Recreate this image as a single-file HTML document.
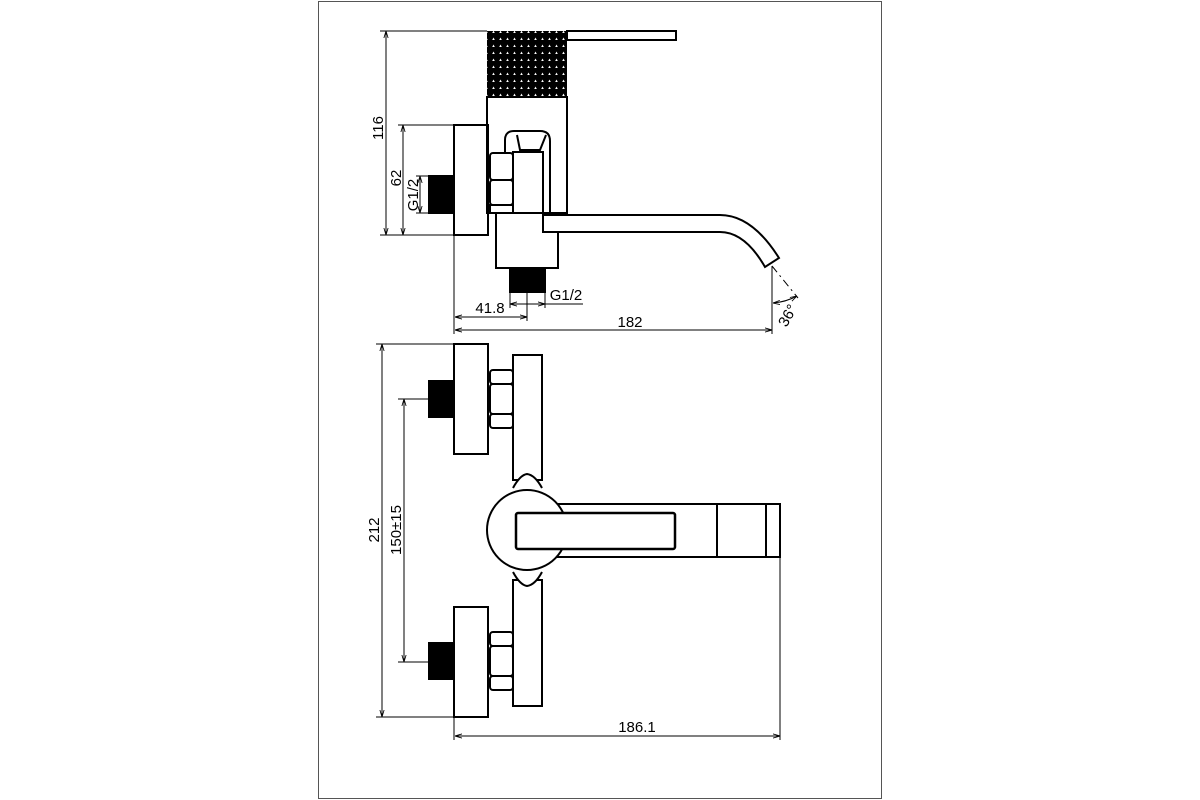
<!DOCTYPE html>
<html><head><meta charset="utf-8"><style>
html,body{margin:0;padding:0;background:#fff}
svg{display:block}
text{font-family:"Liberation Sans",Arial,sans-serif;font-size:15px;fill:#000}
</style></head><body>
<svg width="1200" height="800" viewBox="0 0 1200 800" xmlns="http://www.w3.org/2000/svg">
<defs>
<pattern id="kn" width="7" height="7" patternUnits="userSpaceOnUse">
<rect width="7" height="7" fill="#000"/><polygon points="3.5,2.5 4.8,5 2.2,5" fill="#fff"/>
</pattern>
<marker id="a" viewBox="0 0 10 10" refX="10" refY="5" markerWidth="7" markerHeight="7" orient="auto-start-reverse"><path d="M0,2 L10,5 L0,8" fill="none" stroke="#000" stroke-width="1.2"/></marker>
</defs>
<rect x="318.5" y="1.5" width="563" height="797" fill="none" stroke="#555" stroke-width="1"/>
<g fill="none" stroke="#000" stroke-width="2">
<!-- TOP VIEW -->
<rect x="487" y="31" width="80" height="66" fill="url(#kn)" stroke="none"/>
<rect x="567" y="31" width="109" height="9" stroke-width="2"/>
<rect x="487" y="97" width="80" height="116"/>
<rect x="454" y="125" width="34" height="110"/>
<rect x="429" y="176" width="24" height="37" fill="#000"/>
<rect x="490" y="153" width="23" height="27" rx="3"/>
<rect x="490" y="180" width="23" height="25" rx="3"/>
<rect x="490" y="205" width="23" height="8"/>
<path d="M505,152 V140 Q505,131 514,131 H540 Q550,131 550,141 V213"/>
<rect x="513" y="152" width="30" height="61"/>
<path d="M517,135 L520,150 H540 L546,135"/>
<rect x="496" y="213" width="62" height="55"/>
<rect x="510" y="268" width="35" height="24" fill="#000"/>
<path d="M543,215 H720 Q752,215 779,258 L765,267 Q745,232 720,232 H543 Z" fill="#fff"/>
<!-- BOTTOM VIEW -->
<rect x="454" y="344" width="34" height="110"/>
<rect x="429" y="381" width="24" height="36" fill="#000"/>
<rect x="490" y="370" width="23" height="14" rx="3"/>
<rect x="490" y="384" width="23" height="30" rx="3"/>
<rect x="490" y="414" width="23" height="14" rx="3"/>
<rect x="513" y="355" width="29" height="125"/>
<rect x="454" y="607" width="34" height="110"/>
<rect x="429" y="643" width="24" height="36" fill="#000"/>
<rect x="490" y="632" width="23" height="14" rx="3"/>
<rect x="490" y="646" width="23" height="30" rx="3"/>
<rect x="490" y="676" width="23" height="14" rx="3"/>
<rect x="513" y="580" width="29" height="126"/>
<path d="M513,488 Q520,475 527,474 Q535,475 542,488" fill="#fff"/>
<path d="M513,572 Q520,585 527,586 Q535,585 542,572" fill="#fff"/>
<rect x="550" y="504" width="230" height="53" fill="#fff"/>
<line x1="717" y1="504" x2="717" y2="557"/>
<line x1="766" y1="504" x2="766" y2="557"/>
<circle cx="527" cy="530" r="40" fill="#fff"/>
<rect x="516" y="513" width="159" height="36" rx="2" fill="#fff" stroke-width="2.5"/>
</g>
<g fill="none" stroke="#000" stroke-width="1">
<line x1="380" y1="31" x2="487" y2="31"/>
<line x1="380" y1="235" x2="454" y2="235"/>
<line x1="386" y1="31" x2="386" y2="235" marker-start="url(#a)" marker-end="url(#a)"/>
<line x1="398" y1="125" x2="454" y2="125"/>
<line x1="403" y1="125" x2="403" y2="235" marker-start="url(#a)" marker-end="url(#a)"/>
<line x1="416" y1="176" x2="429" y2="176"/>
<line x1="416" y1="213" x2="429" y2="213"/>
<line x1="420" y1="176" x2="420" y2="213" marker-start="url(#a)" marker-end="url(#a)"/>
<line x1="454" y1="235" x2="454" y2="334"/>
<line x1="527" y1="292" x2="527" y2="321"/>
<line x1="510" y1="292" x2="510" y2="308"/>
<line x1="545" y1="292" x2="545" y2="308"/>
<line x1="455" y1="317" x2="527" y2="317" marker-start="url(#a)" marker-end="url(#a)"/>
<line x1="510" y1="304" x2="545" y2="304" marker-start="url(#a)" marker-end="url(#a)"/>
<line x1="545" y1="304" x2="583" y2="304"/>
<line x1="455" y1="330" x2="772" y2="330" marker-start="url(#a)" marker-end="url(#a)"/>
<line x1="772" y1="266" x2="772" y2="334"/>
<line x1="772" y1="266" x2="798" y2="298" stroke-dasharray="8,4,2,4"/>
<path d="M773,303 Q786,302 797,296" marker-start="url(#a)" marker-end="url(#a)"/>
<line x1="376" y1="344" x2="454" y2="344"/>
<line x1="376" y1="717" x2="454" y2="717"/>
<line x1="382" y1="344" x2="382" y2="717" marker-start="url(#a)" marker-end="url(#a)"/>
<line x1="398" y1="399" x2="428" y2="399"/>
<line x1="398" y1="662" x2="428" y2="662"/>
<line x1="404" y1="399" x2="404" y2="662" marker-start="url(#a)" marker-end="url(#a)"/>
<line x1="454" y1="717" x2="454" y2="740"/>
<line x1="780" y1="557" x2="780" y2="740"/>
<line x1="455" y1="736" x2="780" y2="736" marker-start="url(#a)" marker-end="url(#a)"/>
</g>
<text transform="translate(383,128) rotate(-90)" text-anchor="middle">116</text>
<text transform="translate(401,178) rotate(-90)" text-anchor="middle">62</text>
<text transform="translate(418,195) rotate(-90)" text-anchor="middle">G1/2</text>
<text x="490" y="313" text-anchor="middle">41.8</text>
<text x="566" y="300" text-anchor="middle">G1/2</text>
<text x="630" y="327" text-anchor="middle">182</text>
<text transform="translate(792,318) rotate(-60)" text-anchor="middle">36°</text>
<text transform="translate(379,530) rotate(-90)" text-anchor="middle">212</text>
<text transform="translate(401,530) rotate(-90)" text-anchor="middle">150±15</text>
<text x="637" y="732" text-anchor="middle">186.1</text>
</svg>
</body></html>
